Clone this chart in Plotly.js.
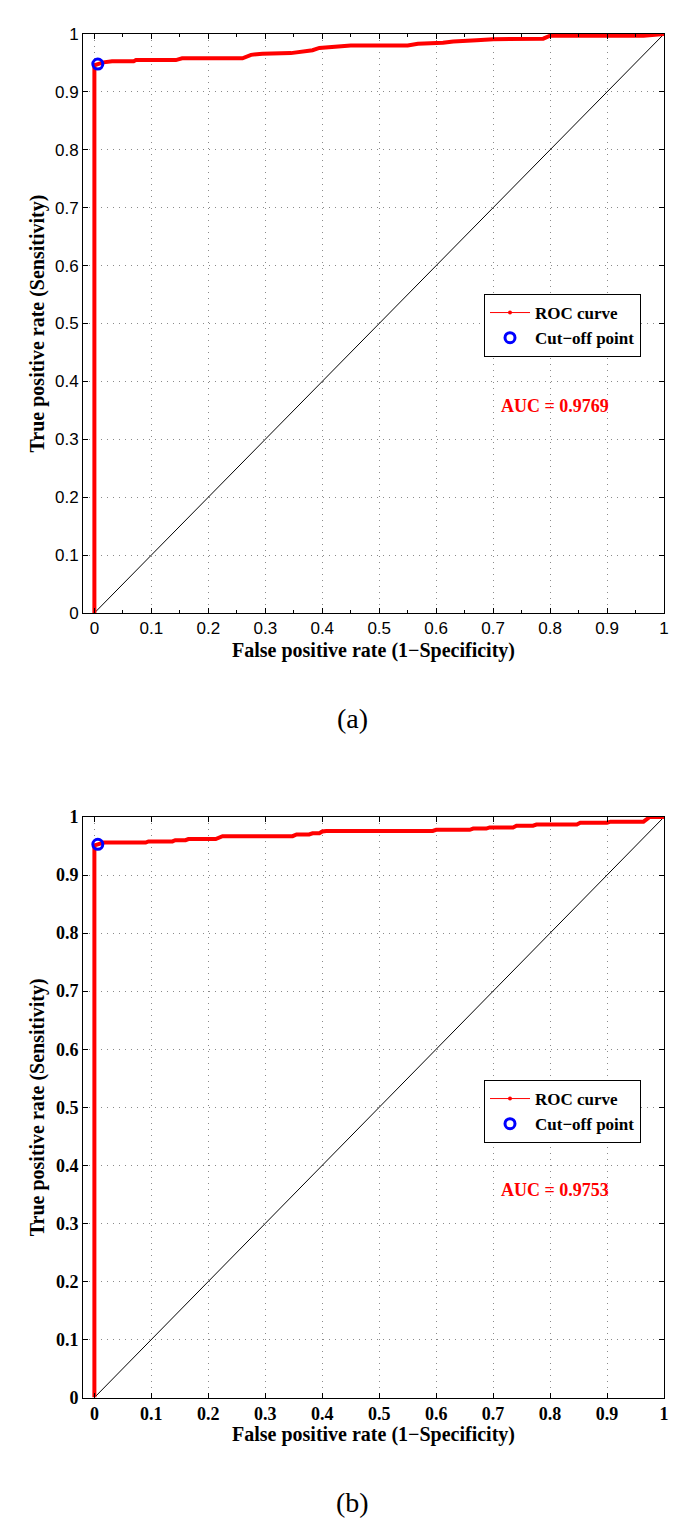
<!DOCTYPE html>
<html>
<head>
<meta charset="utf-8">
<script src="https://cdn.plot.ly/plotly-3.0.1.min.js"></script>
<style>html,body{margin:0;padding:0;background:#fff;}#chart{width:685px;height:1540px;}</style>
</head>
<body>
<div id="chart"></div>
<script>
// ---- data ----
const fprA = [0, 0, 0.006, 0.016, 0.031, 0.069, 0.073, 0.143, 0.154, 0.260, 0.275, 0.295, 0.345, 0.363, 0.383, 0.395, 0.442, 0.45, 0.55, 0.568, 0.612, 0.630, 0.671, 0.700, 0.788, 0.800, 0.964, 1.0];
const tprA = [0, 0.946, 0.948, 0.951, 0.953, 0.953, 0.955, 0.955, 0.958, 0.958, 0.964, 0.966, 0.967, 0.970, 0.972, 0.976, 0.978, 0.980, 0.980, 0.983, 0.985, 0.987, 0.989, 0.991, 0.992, 0.997, 0.997, 1.0];
const fprB = [0, 0, 0.006, 0.016, 0.090, 0.095, 0.137, 0.142, 0.160, 0.165, 0.213, 0.225, 0.348, 0.355, 0.377, 0.383, 0.395, 0.400, 0.407, 0.594, 0.600, 0.659, 0.665, 0.688, 0.694, 0.735, 0.741, 0.770, 0.776, 0.847, 0.853, 0.900, 0.906, 0.964, 0.975, 1.0];
const tprB = [0, 0.951, 0.953, 0.956, 0.956, 0.958, 0.958, 0.960, 0.960, 0.962, 0.962, 0.967, 0.967, 0.970, 0.970, 0.972, 0.972, 0.975, 0.976, 0.976, 0.978, 0.978, 0.980, 0.980, 0.982, 0.982, 0.985, 0.985, 0.987, 0.987, 0.990, 0.990, 0.992, 0.992, 1.0, 1.0];
const cutA = [0.006, 0.948];
const cutB = [0.006, 0.953];
const diagX = [0, 1];
const diagY = [0, 1];
const aucA = "AUC = 0.9769";
const aucB = "AUC = 0.9753";
const tickVals = [0, 0.1, 0.2, 0.3, 0.4, 0.5, 0.6, 0.7, 0.8, 0.9, 1];
const tickText = ["0", "0.1", "0.2", "0.3", "0.4", "0.5", "0.6", "0.7", "0.8", "0.9", "1"];
const minorVals = [0.05, 0.15, 0.25, 0.35, 0.45, 0.55, 0.65, 0.75, 0.85, 0.95];
const xTitle = "False positive rate (1\u2212Specificity)";
const yTitle = "True positive rate (Sensitivity)";
const legendNames = ["ROC curve", "Cut\u2212off point"];
const captions = ["(a)", "(b)"];

// ---- layout geometry ----
const W = 685, H = 1540;
const left = 83, right = 664;
const topA = 34, botA = 613, topB = 817, botB = 1397.6;
const px2x = p => p / W;
const px2y = p => 1 - p / H;

const serif = "Liberation Serif, Times New Roman, serif";
const sans = "Liberation Sans, Arial, sans-serif";

function traces(fpr, tpr, cut, xa, ya, leg) {
  return [
    {x: diagX, y: diagY, xaxis: xa, yaxis: ya, mode: 'lines', line: {color: '#000', width: 1}, showlegend: false, hoverinfo: 'skip'},
    {x: fpr, y: tpr, xaxis: xa, yaxis: ya, mode: 'lines', line: {color: '#ff0000', width: 4}, showlegend: false, cliponaxis: false},
    {x: [null], y: [null], xaxis: xa, yaxis: ya, mode: 'lines+markers', name: legendNames[0], legend: leg,
     line: {color: '#ff0000', width: 1}, marker: {color: '#ff0000', size: 4}},
    {x: [cut[0]], y: [cut[1]], xaxis: xa, yaxis: ya, mode: 'markers', name: legendNames[1], legend: leg,
     marker: {symbol: 'circle-open', color: '#0000ff', size: 10, line: {width: 3, color: '#0000ff'}}, cliponaxis: false}
  ];
}

const data = [].concat(
  traces(fprA, tprA, cutA, 'x', 'y', 'legend'),
  traces(fprB, tprB, cutB, 'x2', 'y2', 'legend2')
);

const gridCol = '#8a8a8a';
const gridDash = '1px,5px';

function xaxis(anchor, tickfont, minor) {
  const ax = {
    domain: [px2x(left), px2x(right)], anchor: anchor, range: [-0.02, 1],
    tickmode: 'array', tickvals: tickVals, ticktext: tickText,
    ticks: 'inside', ticklen: 5, tickcolor: '#000', tickwidth: 1,
    showline: true, linecolor: '#000', linewidth: 1, mirror: 'ticks',
    showgrid: true, gridcolor: gridCol, griddash: gridDash, gridwidth: 1,
    zeroline: false, tickfont: tickfont, fixedrange: true
  };
  if (minor) ax.minor = {tickvals: minorVals, ticks: 'inside', ticklen: 3, tickcolor: '#000', showgrid: false};
  return ax;
}
function yaxis(top, bot, anchor, tickfont) {
  return {
    domain: [px2y(bot), px2y(top)], anchor: anchor, range: [0, 1],
    tickmode: 'array', tickvals: tickVals, ticktext: tickText,
    ticks: 'inside', ticklen: 5, tickcolor: '#000', tickwidth: 1,
    showline: true, linecolor: '#000', linewidth: 1, mirror: 'ticks',
    showgrid: true, gridcolor: gridCol, griddash: gridDash, gridwidth: 1,
    zeroline: false, tickfont: tickfont, fixedrange: true
  };
}

const fontA = {family: sans, size: 17, color: '#000'};
const fontB = {family: serif, size: 18, color: '#000', weight: 'bold'};
const titleFont = {family: serif, size: 20, color: '#000', weight: 'bold'};
const legFont = {family: serif, size: 17, color: '#000', weight: 'bold'};

function annots(top, bot, auc, cap, xref, yref, capY) {
  return [
    {xref: 'paper', yref: 'paper', x: px2x((left + right) / 2), y: px2y(bot + 37), text: '<b>' + xTitle + '</b>', showarrow: false, font: titleFont, xanchor: 'center', yanchor: 'middle'},
    {xref: 'paper', yref: 'paper', x: px2x(37), y: px2y((top + bot) / 2), text: '<b>' + yTitle + '</b>', showarrow: false, font: titleFont, textangle: -90, xanchor: 'center', yanchor: 'middle'},
    {xref: xref, yref: yref, x: 0.809, y: 0.358, text: '<b>' + auc + '</b>', showarrow: false, font: {family: serif, size: 18, color: '#ff0000', weight: 'bold'}, xanchor: 'center', yanchor: 'middle'},
    {xref: 'paper', yref: 'paper', x: px2x(352), y: px2y(capY), text: cap, showarrow: false, font: {family: serif, size: 28, color: '#000'}, xanchor: 'center', yanchor: 'middle'}
  ];
}

const legendBase = {
  bgcolor: '#fff', bordercolor: '#000', borderwidth: 1, font: legFont,
  xanchor: 'left', yanchor: 'top', x: px2x(484), itemwidth: 40, tracegroupgap: 0,
  entrywidth: 132
};

const layout = {
  width: W, height: H,
  margin: {l: 0, r: 0, t: 0, b: 0},
  paper_bgcolor: '#fff', plot_bgcolor: '#fff',
  xaxis: xaxis('y', fontA, true),
  yaxis: yaxis(topA, botA, 'x', fontA),
  xaxis2: xaxis('y2', fontB, false),
  yaxis2: yaxis(topB, botB, 'x2', fontB),
  legend: Object.assign({}, legendBase, {y: px2y(294)}),
  legend2: Object.assign({}, legendBase, {y: px2y(1080)}),
  annotations: [].concat(
    annots(topA, botA, aucA, captions[0], 'x', 'y', 718),
    annots(topB, botB, aucB, captions[1], 'x2', 'y2', 1502)
  ),
  showlegend: true
};

Plotly.newPlot('chart', data, layout, {displayModeBar: false, staticPlot: true});
</script>
</body>
</html>
